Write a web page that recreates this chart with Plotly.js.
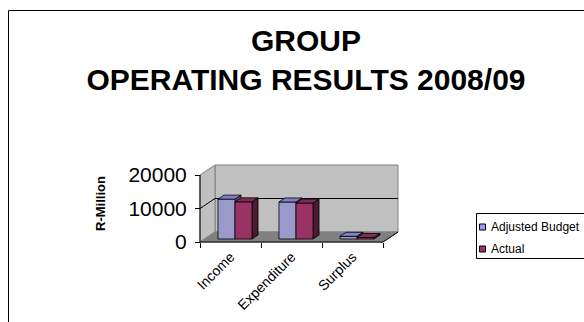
<!DOCTYPE html>
<html>
<head>
<meta charset="utf-8">
<script src="https://cdn.plot.ly/plotly-3.0.1.min.js"></script>
<style>html,body{margin:0;padding:0;background:#fff;}#chart{width:584px;height:322px;}</style>
</head>
<body>
<div id="chart"></div>
<script>
// ---- data ----
const categories = ['Income', 'Expenditure', 'Surplus'];
const adjustedBudget = [11900, 11050, 800];
const actual = [11100, 10750, 450];
const yTickVals = [0, 10000, 20000];
const yTickText = ['0', '10000', '20000'];
const seriesNames = ['Adjusted Budget', 'Actual'];

// ---- styling / geometry ----
const W = 584, H = 322;
const FONT = 'Liberation Sans, Arial, sans-serif';
const pxPerCat = 61, pxPer10k = 33.5;
const depthPx = {x: 15, y: 10};
const dxd = depthPx.x / pxPerCat;
const dyd = depthPx.y / pxPer10k * 10000;
const yMax = yTickVals[yTickVals.length - 1];
const xMin = -0.5, xMax = categories.length - 0.5;
const padPx = 2;
const frontLeftPx = 200, floorFrontPx = 242;
const xPad = padPx / pxPerCat, yPad = padPx / pxPer10k * 10000;
const xRange = [xMin - xPad, xMax + dxd + xPad];
const yRange = [-yPad, yMax + dyd + yPad];
const plotW = (xRange[1] - xRange[0]) * pxPerCat;
const plotH = (yRange[1] - yRange[0]) / 10000 * pxPer10k;
const mL = frontLeftPx - padPx;
const mB = H - floorFrontPx - padPx;
const mT = H - mB - plotH;
const mR = W - mL - plotW;
const px2x = px => (px - mL) / plotW;
const px2y = py => (H - mB - py) / plotH;

const gap = 0.221, barW = 0.279, d0 = 0.3, dd = 0.4;
const faceColors = [
  {front: '#9999cc', top: '#8080c4', side: '#55557f'},
  {front: '#993366', top: '#832a55', side: '#4d1a33'}
];
const legendColors = ['#9999ff', '#993366'];

const traces = [];
function poly(xs, ys, fill, lineColor, lw) {
  traces.push({type: 'scatter', mode: 'lines', x: xs, y: ys, fill: 'toself',
    fillcolor: fill, line: {color: lineColor, width: lw}, hoverinfo: 'skip', showlegend: false});
}
function line(xs, ys, color, lw) {
  traces.push({type: 'scatter', mode: 'lines', x: xs, y: ys,
    line: {color: color, width: lw}, hoverinfo: 'skip', showlegend: false});
}

// walls and floor
poly([xMin + dxd, xMax + dxd, xMax + dxd, xMin + dxd, xMin + dxd],
     [dyd, dyd, yMax + dyd, yMax + dyd, dyd], '#c0c0c0', '#808080', 1);
poly([xMin, xMin + dxd, xMin + dxd, xMin, xMin],
     [0, dyd, yMax + dyd, yMax, 0], '#c0c0c0', '#808080', 1);
poly([xMin, xMax, xMax + dxd, xMin + dxd, xMin],
     [0, 0, dyd, dyd, 0], '#808080', '#808080', 1);
// gridlines
yTickVals.forEach(t => {
  if (t > 0 && t < yMax) line([xMin, xMin + dxd, xMax + dxd], [t, t + dyd, t + dyd], '#000', 1);
});
// axis lines
line([xMin, xMin], [0, yMax], '#000', 1);
line([xMin, xMax, xMax + dxd], [0, 0, dyd], '#000', 1);

// bars
const series = [adjustedBudget, actual];
categories.forEach((c, i) => {
  series.forEach((vals, s) => {
    const v = vals[i];
    const x0 = i - 0.5 + gap + s * barW + d0 * dxd, x1 = x0 + barW;
    const y0 = d0 * dyd, y1 = v + d0 * dyd;
    const ox = dd * dxd, oy = dd * dyd;
    const col = faceColors[s];
    poly([x1, x1 + ox, x1 + ox, x1, x1], [y0, y0 + oy, y1 + oy, y1, y0], col.side, '#000', 0.8);
    poly([x0, x1, x1, x0, x0], [y0, y0, y1, y1, y0], col.front, '#000', 0.8);
    poly([x0, x1, x1 + ox, x0 + ox, x0], [y1, y1, y1 + oy, y1 + oy, y1], col.top, '#000', 0.8);
  });
});

// legend (drawn as shapes + text)
const legTop = 213, legBot = 258, legLeft = 476;
const rowY = [227, 249];
const shapes = [
  {type: 'rect', xref: 'paper', yref: 'paper', x0: px2x(8.5), x1: px2x(W + 20), y0: px2y(10.5), y1: px2y(H + 20),
   line: {color: '#000', width: 1}, fillcolor: 'rgba(0,0,0,0)', layer: 'below'},
  {type: 'rect', xref: 'paper', yref: 'paper', x0: px2x(legLeft + 0.5), x1: px2x(W + 40), y0: px2y(legTop + 0.5), y1: px2y(legBot + 0.5),
   line: {color: '#000', width: 1}, fillcolor: '#fff'}
];
const annotations = [];
seriesNames.forEach((n, k) => {
  shapes.push({type: 'rect', xref: 'paper', yref: 'paper', x0: px2x(479.5), x1: px2x(485.5),
    y0: px2y(rowY[k] - 3), y1: px2y(rowY[k] + 3), line: {color: '#000', width: 1}, fillcolor: legendColors[k]});
  annotations.push({xref: 'paper', yref: 'paper', x: px2x(489), y: px2y(rowY[k]), xanchor: 'left', yanchor: 'middle',
    text: n, showarrow: false, font: {family: FONT, size: 12, color: '#000'}});
});

const layout = {
  width: W, height: H,
  margin: {l: mL, r: mR, t: mT, b: mB, pad: 0},
  paper_bgcolor: '#fff', plot_bgcolor: 'rgba(0,0,0,0)',
  showlegend: false,
  title: {text: 'GROUP<br>OPERATING RESULTS 2008/09', xref: 'container', yref: 'container',
    x: 306 / W, xanchor: 'center', y: 1 - 51 / H, yanchor: 'top',
    font: {family: FONT, size: 30, color: '#000', weight: 'bold'}},
  xaxis: {range: xRange, showgrid: false, zeroline: false, showline: false,
    tickmode: 'array', tickvals: categories.map((c, i) => i), ticktext: categories,
    ticks: '', tickangle: -45, tickfont: {family: FONT, size: 14, color: '#000'}, ticklabelstandoff: 3,
    anchor: 'free', position: px2y(floorFrontPx),
    minor: {tickmode: 'array', tickvals: categories.map((c, i) => i - 0.5).concat([xMax]),
      ticks: 'outside', ticklen: 5, tickcolor: '#000', tickwidth: 1, showgrid: false},
    fixedrange: true},
  yaxis: {range: yRange, showgrid: false, zeroline: false, showline: false,
    tickmode: 'array', tickvals: yTickVals, ticktext: yTickText, ticks: 'outside', ticklen: 5, tickcolor: '#000',
    tickfont: {family: FONT, size: 21, color: '#000'}, ticklabelstandoff: 4,
    anchor: 'free', position: px2x(frontLeftPx),
    title: {text: 'R-Million', font: {family: FONT, size: 13, color: '#000', weight: 'bold'}, standoff: 18},
    automargin: true, fixedrange: true},
  shapes: shapes,
  annotations: annotations
};

Plotly.newPlot('chart', traces, layout, {displayModeBar: false, staticPlot: true});
</script>
</body>
</html>
